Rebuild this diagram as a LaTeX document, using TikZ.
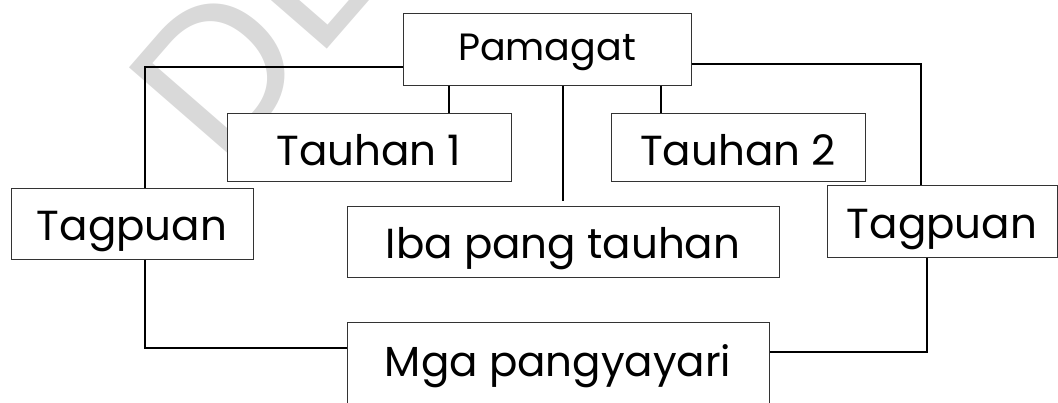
\documentclass[tikz,border=0pt]{standalone}
\usepackage{fontspec}
\setmainfont{Poppins}
\newfontfamily\markfont{Liberation Sans}
\usetikzlibrary{positioning}

\begin{document}
\begin{tikzpicture}[x=1pt,y=-1pt,
    box/.style={draw=black!80, line width=1pt, fill=white, inner sep=0pt,
                text height=34pt, text depth=0pt,
                font=\fontsize{42}{48}\selectfont},
    link/.style={draw=black, line width=1.5pt}]
            \useasboundingbox (0,0) rectangle (1058,402);
            \clip (0,0) rectangle (1058,402);

            % watermark
            \node[text=black!15, rotate=49, anchor=base west, inner sep=0pt,
                  font=\markfont\fontsize{200}{200}\selectfont] (mark) at (222,171) {DE};

            % Boxes
            \node[box, minimum width=288, minimum height=72, text height=22.5pt,
                  font=\fontsize{38}{44}\selectfont] (pamagat) at (547,49) {Pamagat};
            \node[box, minimum width=284, minimum height=68, text height=37pt] (tauhanA) at (369,147) {Tauhan 1};
            \node[box, minimum width=254, minimum height=68, text height=37pt] (tauhanB) at (738,147) {Tauhan 2};
            \node[box, minimum width=242, minimum height=71] (tagpuanL) at (132,223.5) {Tagpuan};
            \node[box, minimum width=230, minimum height=72] (tagpuanR) at (942,221) {Tagpuan};
            \node[box, minimum width=432, minimum height=71] (iba) at (563,241.5) {Iba pang tauhan};
            \node[box, minimum width=422, minimum height=84, text height=25pt] (mga) at (558,364) {Mga pangyayari};

            % Links
            \draw[link] ([yshift=-18pt]pamagat.west) -| ([xshift=13pt]tagpuanL.north);
            \draw[link] ([yshift=-15pt]pamagat.east) -| ([xshift=-21pt]tagpuanR.north);
            \draw[link] ([xshift=-98pt]pamagat.south) -- ([xshift=-98pt]pamagat.south |- tauhanA.north);
            \draw[link] ([xshift=114pt]pamagat.south) -- ([xshift=114pt]pamagat.south |- tauhanB.north);
            \draw[link] (pamagat.south -| iba.north) -- ([yshift=5pt]iba.north);
            \draw[link] ([xshift=13pt]tagpuanL.south) |- ([yshift=16pt]mga.west);
            \draw[link] ([xshift=-15pt]tagpuanR.south) |- ([yshift=12pt]mga.east);
        \end{tikzpicture}
\end{document}
